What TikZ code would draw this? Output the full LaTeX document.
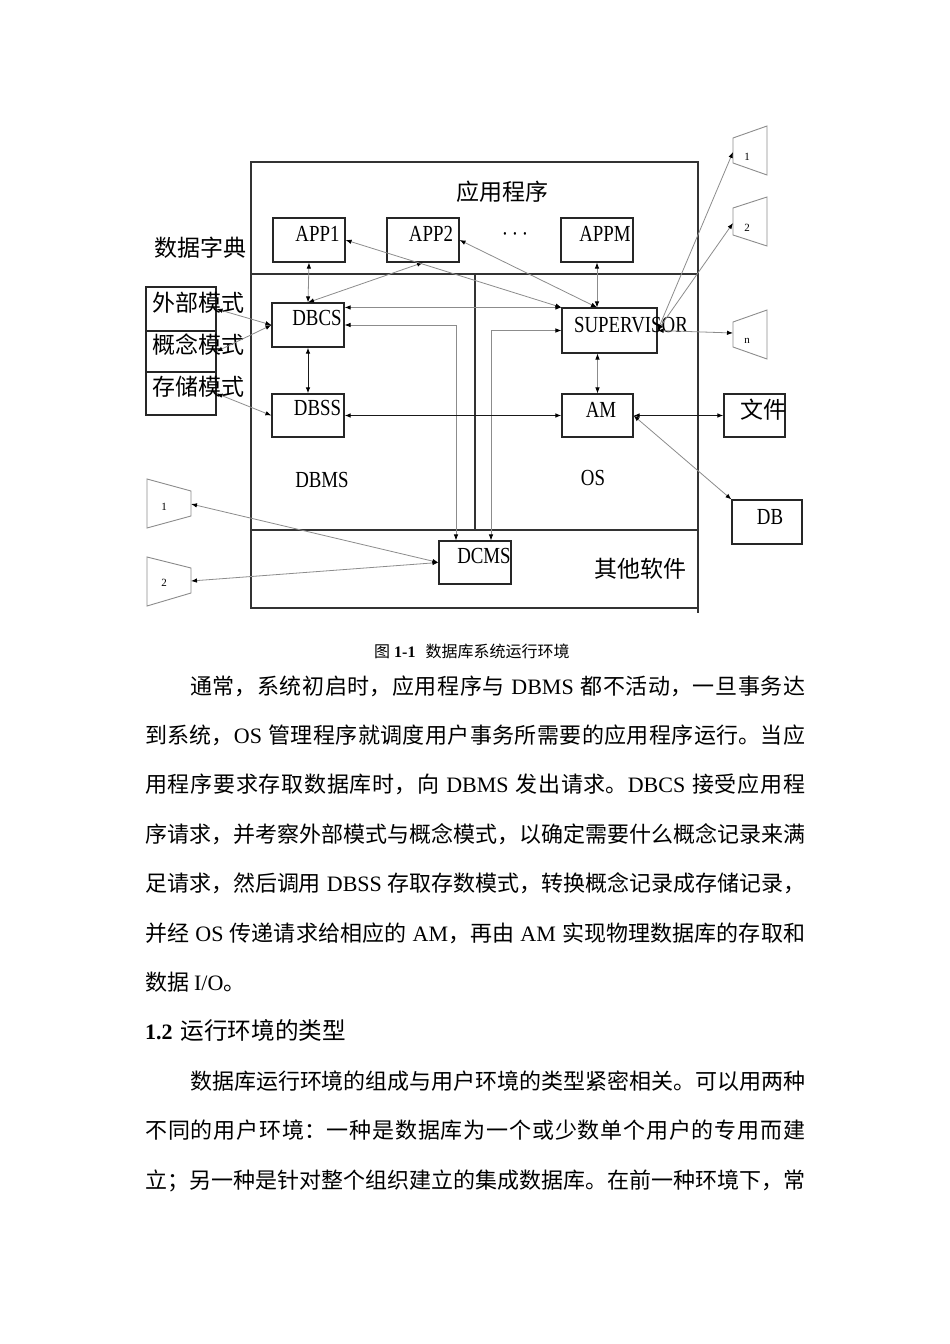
\documentclass[tikz,border=0pt]{standalone}
\usepackage{fontspec}
\setmainfont{Noto Sans CJK SC}
\newfontfamily\tm{Liberation Serif}
\newfontfamily\dl[FakeStretch=0.82]{Liberation Serif}
\usetikzlibrary{arrows.meta,calc}
\XeTeXlinebreaklocale "zh"
\XeTeXlinebreakskip=0pt plus 6pt minus 1pt
\newcommand\jline[1]{\leftskip=0pt\rightskip=0pt\parfillskip=0pt\spaceskip=6pt plus 8pt minus 3pt\XeTeXlinebreakpenalty=10000\relax #1\par}
\tikzset{
  frameline/.style={draw=black!80, line width=1.2pt},
  box/.style={draw=black!85, line width=1.1pt, inner sep=0pt},
  tip/.tip={Latex[length=6pt,width=4.5pt,color=black]},
  conn/.style={draw=black!45, line width=0.8pt, tip-tip},
  blk/.style={draw=black!90, line width=1pt, tip-tip},
  term/.style={draw=black!45, line width=0.9pt},
  tlab/.style={inner sep=0pt, font=\tm\fontsize{11}{11}\selectfont},
  dlab/.style={inner sep=0pt, font=\dl\fontsize{23}{23}\selectfont},
  zlab/.style={inner sep=0pt, font=\fontsize{23}{23}\selectfont},
  body/.style={inner sep=0pt, anchor=base west, font=\fontsize{22}{22}\selectfont},
}
\begin{document}
\begin{tikzpicture}[x=1pt,y=-1pt]
\fill[white] (0,0) rectangle (950,1344);
\useasboundingbox (0,0) rectangle (950,1344);

% frame
\draw[frameline] (251,162) rectangle (698,608);
\draw[frameline] (698,608) -- (698,613);
\draw[frameline] (251,274) -- (698,274);
\draw[frameline] (475,274) -- (475,530);
\draw[frameline] (251,530) -- (698,530);

% boxes
\node[box, minimum width=72pt, minimum height=44pt] (app1) at (309,240) {};
\node[box, minimum width=72pt, minimum height=44pt] (app2) at (423,240) {};
\node[box, minimum width=72pt, minimum height=44pt] (appm) at (597,240) {};
\node[box, minimum width=72pt, minimum height=44pt] (dbcs) at (308,325) {};
\node[box, minimum width=72pt, minimum height=43pt] (dbss) at (308,415.5) {};
\node[box, minimum width=95pt, minimum height=45pt] (sup) at (609.5,330.5) {};
\node[box, minimum width=71pt, minimum height=43pt] (am) at (597.5,415.5) {};
\node[box, minimum width=61pt, minimum height=43pt] (file) at (754.5,415.5) {};
\node[box, minimum width=70pt, minimum height=44pt] (db) at (767,522) {};
\node[box, minimum width=72pt, minimum height=43pt] (dcms) at (475,562.5) {};
\node[box, minimum width=70pt, minimum height=44pt] (sch1) at (181,309) {};
\node[box, minimum width=70pt, minimum height=41pt] (sch2) at (181,351.5) {};
\node[box, minimum width=70pt, minimum height=43pt] (sch3) at (181,393.5) {};

% terminals
\draw[term] (733,138) -- (767,126) -- (767,175) -- (733,163) -- cycle;
\draw[term] (733,208) -- (767,197) -- (767,246) -- (733,235) -- cycle;
\draw[term] (733,322) -- (767,310) -- (767,359) -- (733,347) -- cycle;
\draw[term] (147,479) -- (191,491) -- (191,516) -- (147,528) -- cycle;
\draw[term] (147,557) -- (191,568) -- (191,593) -- (147,606) -- cycle;
\coordinate (r1) at (733,152);
\coordinate (r2) at (733,223);
\coordinate (rn) at (733,333);
\coordinate (l1) at (191,504);
\coordinate (l2) at (191,581);
\node[tlab] (r1t) at (747,157) {1};
\node[tlab] (r2t) at (747,228) {2};
\node[tlab] (rnt) at (747,341) {n};
\node[tlab] (l1t) at (164,507) {1};
\node[tlab] (l2t) at (164,583) {2};

% labels
\node[zlab] (t-app) at (502,192) {应用程序};
\node[zlab] (t-dict) at (200,248) {数据字典};
\node[zlab, anchor=west] (t-s1) at (152,303) {外部模式};
\node[zlab, anchor=west] (t-s2) at (152,345) {概念模式};
\node[zlab, anchor=west] (t-s3) at (152,387) {存储模式};
\node[zlab] (t-file) at (763,410) {文件};
\node[zlab] (t-other) at (640,569) {其他软件};
\node[dlab] (t-app1) at (317.5,234) {APP1};
\node[dlab] (t-app2) at (431,234) {APP2};
\node[dlab] (t-dots) at (515,237) {·\,·\,·};
\node[dlab] (t-appm) at (605,234) {APPM};
\node[dlab] (t-dbcs) at (317,318) {DBCS};
\node[dlab] (t-dbss) at (317.5,408) {DBSS};
\node[dlab] (t-sup) at (631,325) {SUPERVISOR};
\node[dlab] (t-am) at (601,410) {AM};
\node[dlab] (t-db) at (770,517) {DB};
\node[dlab] (t-dcms) at (484,556) {DCMS};
\node[dlab] (t-dbms) at (322,480) {DBMS};
\node[dlab] (t-os) at (593,478) {OS};

% connectors
\draw[conn] (app1.south) -- (dbcs.north);
\draw[conn] (app2.south) -- (dbcs.north);
\draw[conn] (app1.east) -- (sup.north west);
\draw[conn] (app2.east) -- (sup.north -| appm.south);
\draw[conn] (appm.south) -- (sup.north -| appm.south);
\draw[conn] (dbcs.east |- sup.north west) -- (sup.north west);
\draw[conn] (dbcs.east) -| ([xshift=-19pt]dcms.north);
\draw[conn] (sup.west) -| ([xshift=16pt]dcms.north);
\draw[blk] (dbcs.south) -- (dbss.north);
\draw[blk] (dbss.east) -- (am.west);
\draw[conn] (sup.south -| am.north) -- (am.north);
\draw[blk] (am.east) -- (file.west);
\draw[conn] (am.east) -- (db.north west);
\draw[conn] (sup.east) -- (r1);
\draw[conn] (sup.east) -- (r2);
\draw[conn] (sup.east) -- (rn);
\draw[conn] (sch1.east) -- (dbcs.west);
\draw[conn] (sch2.east) -- (dbcs.west);
\draw[conn] (sch3.east) -- (dbss.west);
\draw[conn] (l1) -- (dcms.west);
\draw[conn] (l2) -- (dcms.west);

% caption
\node[inner sep=0pt, anchor=west, font=\fontsize{16}{16}\selectfont] (cap) at (374,651) {图\hspace{4pt}{\tm\bfseries 1-1}\hspace{10pt}数据库系统运行环境};

% body text
\node[body, text width=615pt] (p1) at (190,694) {\jline{通常，系统初启时，应用程序与~{\tm DBMS}~都不活动，一旦事务达}};
\node[body, text width=660pt] (p2) at (145,743.4) {\jline{到系统，{\tm OS}~管理程序就调度用户事务所需要的应用程序运行。当应}};
\node[body, text width=660pt] (p3) at (145,792.8) {\jline{用程序要求存取数据库时，向~{\tm DBMS}~发出请求。{\tm DBCS}~接受应用程}};
\node[body, text width=660pt] (p4) at (145,842.2) {\jline{序请求，并考察外部模式与概念模式，以确定需要什么概念记录来满}};
\node[body, text width=660pt] (p5) at (145,891.6) {\jline{足请求，然后调用~{\tm DBSS}~存取存数模式，转换概念记录成存储记录，}};
\node[body, text width=660pt] (p6) at (145,941) {\jline{并经~{\tm OS}~传递请求给相应的~{\tm AM}，再由~{\tm AM}~实现物理数据库的存取和}};
\node[body] (p7) at (145,990.4) {数据 {\tm I/O}。};
\node[body] (h12) at (145,1039.5) {{\tm\bfseries 1.2}\hspace{8pt}{\fontsize{23.6}{24}\selectfont 运行环境的类型}};
\node[body, text width=615pt] (p8) at (190,1089.2) {\jline{数据库运行环境的组成与用户环境的类型紧密相关。可以用两种}};
\node[body, text width=660pt] (p9) at (145,1138.6) {\jline{不同的用户环境：一种是数据库为一个或少数单个用户的专用而建}};
\node[body, text width=660pt] (p10) at (145,1188) {\jline{立；另一种是针对整个组织建立的集成数据库。在前一种环境下，常}};
\end{tikzpicture}
\end{document}
